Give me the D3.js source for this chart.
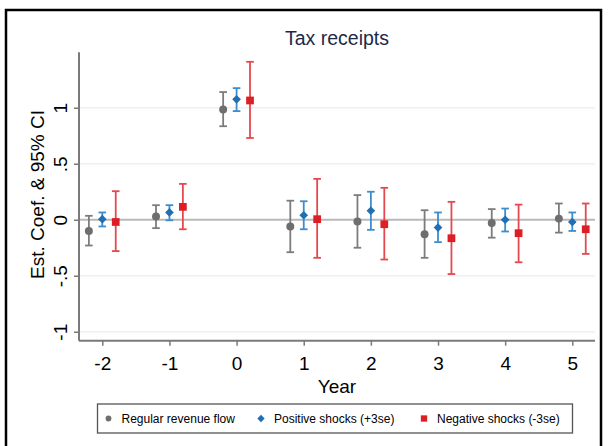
<!DOCTYPE html>
<html>
<head>
<meta charset="utf-8">
<script src="https://cdn.jsdelivr.net/npm/d3@7"></script>
<style>
  body { margin: 0; background: #fff; }
  svg { display: block; }
  text { font-family: Arial, "Liberation Sans", sans-serif; }
</style>
</head>
<body>
<svg id="chart" width="609" height="446"></svg>
<script>
// Event-study years
const years = [-2, -1, 0, 1, 2, 3, 4, 5];

// Regular revenue flow: coefficient and 95% CI bounds
const regularCoef = [-0.10, 0.03, 0.985, -0.06, -0.015, -0.13, -0.03, 0.01];
const regularLo   = [-0.23, -0.075, 0.835, -0.29, -0.25, -0.34, -0.16, -0.115];
const regularHi   = [0.035, 0.13, 1.14, 0.17, 0.22, 0.085, 0.095, 0.145];

// Positive shocks (+3se)
const positiveCoef = [0.005, 0.065, 1.075, 0.04, 0.08, -0.07, 0.0, -0.02];
const positiveLo   = [-0.06, -0.005, 0.97, -0.085, -0.09, -0.20, -0.105, -0.10];
const positiveHi   = [0.065, 0.13, 1.175, 0.165, 0.25, 0.065, 0.10, 0.065];

// Negative shocks (-3se)
const negativeCoef = [-0.02, 0.115, 1.065, 0.005, -0.04, -0.165, -0.12, -0.085];
const negativeLo   = [-0.28, -0.085, 0.73, -0.34, -0.355, -0.485, -0.38, -0.305];
const negativeHi   = [0.255, 0.32, 1.41, 0.365, 0.285, 0.16, 0.135, 0.145];

// Axis ticks and labels
const yTicks = [-1, -0.5, 0, 0.5, 1];
const yTickLabels = ["-1", "-.5", "0", ".5", "1"];
const xTicks = years;

const seriesNames = ["Regular revenue flow", "Positive shocks (+3se)", "Negative shocks (-3se)"];

const series = [
  { name: seriesNames[0], coef: regularCoef, lo: regularLo, hi: regularHi, shift: -0.2,
    marker: "circle", fill: "#6e6e6e", bar: "#7c7c7c" },
  { name: seriesNames[1], coef: positiveCoef, lo: positiveLo, hi: positiveHi, shift: 0,
    marker: "diamond", fill: "#1f6fb4", bar: "#3d8ccb" },
  { name: seriesNames[2], coef: negativeCoef, lo: negativeLo, hi: negativeHi, shift: 0.2,
    marker: "square", fill: "#dc1f26", bar: "#e5484e" }
];

const svg = d3.select("#chart");

// outer frame
svg.append("rect")
  .attr("x", 6).attr("y", 10).attr("width", 595).attr("height", 460)
  .attr("fill", "none").attr("stroke", "#000").attr("stroke-width", 2.5);

const plot = { left: 79, right: 595, top: 52.3, bottom: 340.7 };

const x = d3.scaleLinear().domain([-2.347, 5.338]).range([plot.left, plot.right]);
const y = d3.scaleLinear().domain([-1.08, 1.495]).range([plot.bottom, plot.top]);

// gridlines
svg.append("g").selectAll("line")
  .data(yTicks.filter(d => d !== 0))
  .join("line")
  .attr("x1", plot.left).attr("x2", plot.right)
  .attr("y1", d => y(d)).attr("y2", d => y(d))
  .attr("stroke", "#eaf1f2").attr("stroke-width", 1.5);

// reference line at zero
svg.append("line")
  .attr("x1", plot.left).attr("x2", plot.right)
  .attr("y1", y(0)).attr("y2", y(0))
  .attr("stroke", "#b9b9b9").attr("stroke-width", 2);

// y axis
const yAxis = svg.append("g")
  .attr("transform", `translate(${plot.left},0)`)
  .call(d3.axisLeft(y).tickValues(yTicks).tickSize(5).tickPadding(0)
    .tickFormat((d, i) => yTickLabels[i]));
yAxis.select(".domain").attr("d", `M0,${plot.top}V${plot.bottom}`)
  .attr("stroke", "#7a7a7a").attr("stroke-width", 2);
yAxis.selectAll(".tick line").attr("stroke", "#7a7a7a").attr("stroke-width", 1.5);
yAxis.selectAll(".tick text")
  .attr("x", 0).attr("dy", null)
  .attr("transform", "translate(-12,0) rotate(-90)")
  .attr("text-anchor", "middle")
  .attr("font-size", 19).attr("fill", "#000");

// x axis
const xAxis = svg.append("g")
  .attr("transform", `translate(0,${plot.bottom})`)
  .call(d3.axisBottom(x).tickValues(xTicks).tickSize(5).tickPadding(0)
    .tickFormat(d3.format("d")));
xAxis.select(".domain").attr("d", `M${plot.left},0H${plot.right}`)
  .attr("stroke", "#7a7a7a").attr("stroke-width", 2);
xAxis.selectAll(".tick line").attr("stroke", "#7a7a7a").attr("stroke-width", 1.5);
xAxis.selectAll(".tick text")
  .attr("y", 29.8).attr("dy", null)
  .attr("font-size", 19).attr("fill", "#000");
xAxis.selectAll(".tick text").each(function () {
  const t = d3.select(this);
  t.text(t.text().replace("−", "-"));
});

// axis titles
svg.append("text")
  .attr("x", (plot.left + plot.right) / 2).attr("y", 393)
  .attr("text-anchor", "middle").attr("font-size", 19).attr("fill", "#000")
  .text("Year");

svg.append("text")
  .attr("transform", `translate(43.5,${(plot.top + plot.bottom) / 2 - 2}) rotate(-90)`)
  .attr("text-anchor", "middle").attr("font-size", 19).attr("fill", "#000")
  .text("Est. Coef. & 95% CI");

// chart title
svg.append("text")
  .attr("x", (plot.left + plot.right) / 2).attr("y", 44.5)
  .attr("text-anchor", "middle").attr("font-size", 19.5).attr("fill", "#1c2a4a")
  .text("Tax receipts");

// marker shapes
const symbolFor = {
  circle: d3.symbol().type(d3.symbolCircle).size(50),
  diamond: d3.symbol().type(d3.symbolDiamond2).size(48),
  square: d3.symbol().type(d3.symbolSquare).size(60)
};
const legendSymbol = {
  circle: d3.symbol().type(d3.symbolCircle).size(26),
  diamond: d3.symbol().type(d3.symbolDiamond2).size(34),
  square: d3.symbol().type(d3.symbolSquare).size(40)
};

const capHalf = 3.8;

series.forEach(s => {
  const g = svg.append("g");
  const rows = years.map((yr, i) => ({ yr, coef: s.coef[i], lo: s.lo[i], hi: s.hi[i] }));
  const cx = d => x(d.yr + s.shift);

  // confidence interval bars
  g.selectAll("line.ci").data(rows).join("line").attr("class", "ci")
    .attr("x1", cx).attr("x2", cx)
    .attr("y1", d => y(d.lo)).attr("y2", d => y(d.hi))
    .attr("stroke", s.bar).attr("stroke-width", 1.8);
  // caps
  ["lo", "hi"].forEach(k => {
    g.selectAll("line.cap-" + k).data(rows).join("line").attr("class", "cap-" + k)
      .attr("x1", d => cx(d) - capHalf).attr("x2", d => cx(d) + capHalf)
      .attr("y1", d => y(d[k])).attr("y2", d => y(d[k]))
      .attr("stroke", s.bar).attr("stroke-width", 1.8);
  });
  // point estimates
  g.selectAll("path.pt").data(rows).join("path").attr("class", "pt")
    .attr("d", symbolFor[s.marker])
    .attr("transform", d => `translate(${cx(d)},${y(d.coef)})`)
    .attr("fill", s.fill);
});

// legend
const legend = svg.append("g");
legend.append("rect")
  .attr("x", 97.5).attr("y", 404).attr("width", 475).attr("height", 29)
  .attr("fill", "#fff").attr("stroke", "#555").attr("stroke-width", 1.3);

const legendPos = [108.5, 261, 424];
series.forEach((s, i) => {
  legend.append("path")
    .attr("d", legendSymbol[s.marker])
    .attr("transform", `translate(${legendPos[i]},418.5)`)
    .attr("fill", s.fill);
  legend.append("text")
    .attr("x", legendPos[i] + 13).attr("y", 423)
    .attr("font-size", 12).attr("fill", "#000")
    .text(s.name);
});
</script>
</body>
</html>
